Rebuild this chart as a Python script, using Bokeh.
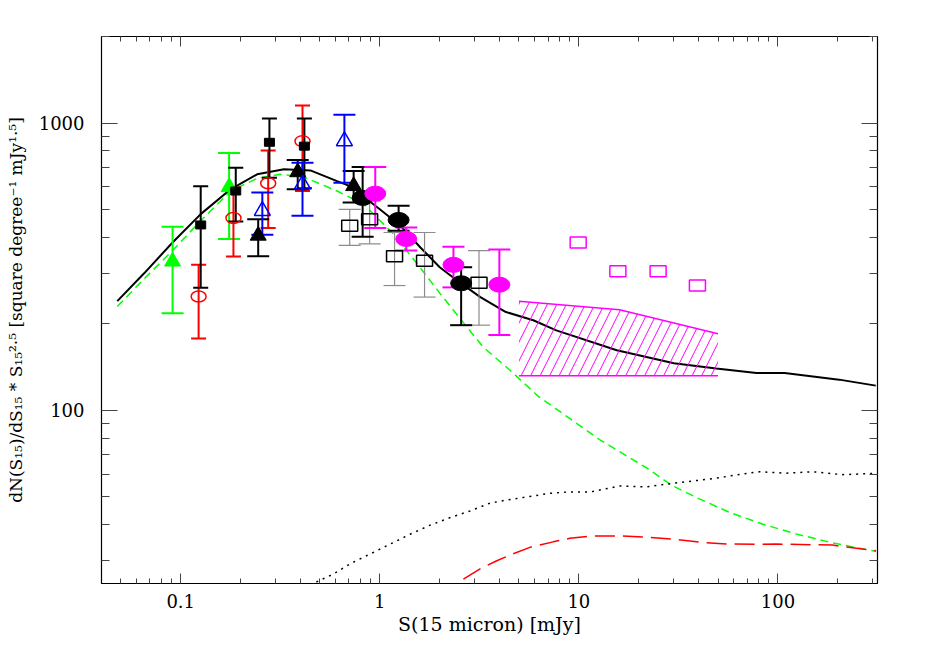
from bokeh.plotting import figure
from bokeh.models import Range1d, LogAxis, FixedTicker, CustomJSTickFormatter
from bokeh.embed import file_html
from bokeh.resources import INLINE

# ---------------- data ----------------
# total model (solid black)
model_x = [0.048, 0.0655, 0.091, 0.126, 0.178, 0.242, 0.33, 0.448, 0.61, 0.74, 0.80, 1.0, 1.27,
           1.6, 2.0, 2.5, 3.2, 4.3, 5.9, 7.7, 15.5, 30, 49, 78, 108, 203, 310]
model_y = [240, 300, 384, 482, 588, 663, 690, 684, 628, 596, 565, 501, 439,
           369, 315, 280, 248, 220, 206, 190, 162, 146, 140, 135, 135, 128, 122]

# green dashed component
green_x = [0.048, 0.0655, 0.091, 0.126, 0.178, 0.242, 0.316, 0.415, 0.61, 0.83, 1.17, 1.54, 2.01,
           2.74, 3.31, 4.51, 6.25, 12.7, 21.8, 29.7, 38.9, 57.1, 84, 123, 188, 311]
green_y = [230, 287, 360, 457, 580, 642, 663, 649, 580, 522, 411, 324, 255,
           195, 166, 138, 112, 79.2, 63.2, 54.6, 49.8, 44.2, 40.2, 37.2, 34.6, 32.3]

# dotted black component
dot_x = [0.48, 0.587, 0.711, 0.896, 1.13, 1.42, 1.79, 2.26, 2.84, 3.58, 4.34, 5.68, 7.15, 8.68,
         11.35, 16.05, 21.8, 29.7, 47.1, 64.1, 80.8, 110, 149, 211, 311]
dot_y = [25.3, 27.0, 29.3, 31.7, 34.3, 37.1, 39.9, 42.4, 44.7, 47.6, 48.8, 50.2, 51.5, 52.0,
         52.0, 54.6, 54.2, 55.8, 57.9, 59.9, 61.2, 60.5, 61.2, 59.8, 60.4]

# red long-dashed component
red_x = [2.63, 3.19, 3.87, 4.51, 5.68, 7.43, 9.01, 11.5, 16.05, 21.8, 29.7, 40.4, 55.0, 80.8,
         98, 188, 311]
red_y = [25.9, 28.1, 30.0, 31.4, 33.4, 34.9, 35.9, 36.6, 36.6, 36.2, 35.7, 34.8, 34.3, 34.2,
         34.3, 34.0, 32.5]

# green filled triangles
gt_x = [0.091, 0.175]
gt_y = [330, 599]
gt_lo = [218, 395]
gt_hi = [436, 787]

# red open circles
rc_x = [0.123, 0.184, 0.275, 0.409]
rc_y = [249, 467, 617, 865]
rc_lo = [178, 343, 431, 580]
rc_hi = [321, 596, 803, 1151]

# black filled squares
bs_x = [0.126, 0.189, 0.279, 0.418]
bs_y = [442, 580, 857, 831]
bs_lo = [267, 454, 645, 593]
bs_hi = [602, 699, 1036, 1036]

# black filled triangles
bt_x = [0.245, 0.387, 0.739]
bt_y = [406, 675, 604]
bt_lo = [344, 588, 529]
bt_hi = [463, 743, 681]

# blue open triangles
ot_x = [0.257, 0.409, 0.664]
ot_y = [495, 612, 865]
ot_lo = [409, 476, 620]
ot_hi = [573, 727, 1069]

# black open squares (grey error bars)
os_x = [0.706, 0.889, 1.186, 1.678, 3.15]
os_y = [439, 463, 344, 332, 278]
os_lo = [375, 380, 272, 248, 198]
os_hi = [501, 536, 416, 416, 360]

# big black filled circles
bc_x = [0.82, 1.243, 2.562]
bc_y = [549, 460, 277]
bc_lo = [402, 422, 198]
bc_hi = [703, 515, 315]

# magenta filled circles
mc_x = [0.949, 1.358, 2.344, 3.986]
mc_y = [568, 395, 321, 274]
mc_lo = [431, 360, 268, 183]
mc_hi = [703, 433, 371, 363]

# magenta open squares
ms_x = [9.92, 15.7, 25.0, 39.4]
ms_y = [384, 305, 305, 272]

# magenta hatched region
hz_x = [5.0, 16.0, 50.0]
hz_top = [240, 224, 185]
hz_bot = [132, 132, 132]

# tick values
x_major = [0.1, 1, 10, 100]
y_major = [100, 1000]

# ---------------- figure ----------------
FONT = "DejaVu Serif"
x_minor = [m * 10.0 ** k for k in range(-2, 3) for m in range(2, 10) if 0.04 <= m * 10.0 ** k <= 316]
y_minor = [m * 10.0 ** k for k in range(1, 4) for m in range(2, 10) if 25 <= m * 10.0 ** k <= 2000]

p = figure(width=920, height=650, x_axis_type="log", y_axis_type="log",
           x_range=Range1d(0.04, 316.23), y_range=Range1d(25, 2000),
           output_backend="svg", toolbar_location=None,
           min_border_left=101, min_border_right=43, min_border_top=36, min_border_bottom=67)
p.xgrid.visible = False
p.ygrid.visible = False
p.outline_line_color = "black"
p.background_fill_color = "white"
p.border_fill_color = "white"

fmt = CustomJSTickFormatter(code="return String(tick);")
blank = CustomJSTickFormatter(code="return '';")


def style_axis(ax, ticker, tin, min_in, formatter):
    ax.ticker = ticker
    ax.formatter = formatter
    ax.major_tick_in = tin
    ax.major_tick_out = 0
    ax.minor_tick_in = min_in
    ax.minor_tick_out = 0
    ax.axis_line_color = "black"
    ax.axis_line_width = 1.2
    ax.major_tick_line_color = "#444444"
    ax.minor_tick_line_color = "#444444"
    ax.major_label_text_font = FONT
    ax.major_label_text_font_size = "18px"
    ax.major_label_text_color = "black"
    ax.axis_label_text_font = FONT
    ax.axis_label_text_font_style = "normal"
    ax.axis_label_text_color = "black"


xt = FixedTicker(ticks=x_major, minor_ticks=x_minor)
yt = FixedTicker(ticks=y_major, minor_ticks=y_minor)

style_axis(p.xaxis[0], xt, 10, 5, fmt)
style_axis(p.yaxis[0], yt, 16, 8, fmt)
p.xaxis[0].major_label_standoff = 10
p.xaxis[0].axis_label = "S(15 micron) [mJy]"
p.xaxis[0].axis_label_text_font_size = "19px"
p.xaxis[0].axis_label_standoff = 2
p.yaxis[0].major_label_standoff = 17
p.yaxis[0].axis_label = "dN(S\u2081\u2085)/dS\u2081\u2085 * S\u2081\u2085\u00b2\u00b7\u2075 [square degree\u207b\u00b9 mJy\u00b9\u00b7\u2075]"
p.yaxis[0].axis_label_text_font_size = "17px"
p.yaxis[0].axis_label_standoff = 10

top = LogAxis()
style_axis(top, xt, 10, 5, blank)
top.major_label_standoff = 0
p.add_layout(top, "above")
right = LogAxis()
style_axis(right, yt, 16, 8, blank)
right.major_label_standoff = 0
p.add_layout(right, "right")

# ---------------- curves ----------------
p.line(model_x, model_y, line_color="black", line_width=2)
p.line(green_x, green_y, line_color="#00ff00", line_width=1.5, line_dash="8 5")
p.line(dot_x, dot_y, line_color="black", line_width=1.5, line_dash="2 5")
p.line(red_x, red_y, line_color="red", line_width=1.5, line_dash="20 8")

# hatched region
p.patch(x=hz_x + hz_x[::-1], y=hz_top + hz_bot[::-1], fill_color=None, line_color=None,
        hatch_pattern="/", hatch_color="#ff00ff", hatch_weight=1, hatch_scale=19)
p.line(hz_x, hz_top, line_color="#ff00ff", line_width=1.5)
p.line(hz_x, hz_bot, line_color="#ff00ff", line_width=1.5)


def errbars(x, lo, hi, color, cap, width=1.5):
    p.segment(x0=x, y0=lo, x1=x, y1=hi, line_color=color, line_width=width)
    p.scatter(x=x, y=lo, marker="dash", size=cap, line_color=color, line_width=width)
    p.scatter(x=x, y=hi, marker="dash", size=cap, line_color=color, line_width=width)


# error bars
errbars(os_x, os_lo, os_hi, "#8c8c8c", 22, 1.2)
errbars(gt_x, gt_lo, gt_hi, "#00ff00", 22, 2)
errbars(rc_x, rc_lo, rc_hi, "red", 15, 2)
errbars(bs_x, bs_lo, bs_hi, "black", 15, 2)
errbars(bt_x, bt_lo, bt_hi, "black", 22, 2)
errbars(ot_x, ot_lo, ot_hi, "blue", 22, 2)
errbars(bc_x, bc_lo, bc_hi, "black", 22, 2)
errbars(mc_x, mc_lo, mc_hi, "#ff00ff", 22, 2)

# markers
p.rect(os_x, os_y, width=16, height=11, width_units="screen", height_units="screen",
       fill_color=None, line_color="black", line_width=1.5)
p.scatter(gt_x, gt_y, marker="triangle", size=16, fill_color="#00ff00", line_color="#00ff00")
p.ellipse(rc_x, rc_y, width=15, height=11, width_units="screen", height_units="screen",
          fill_color=None, line_color="red", line_width=1.5)
p.rect(bs_x, bs_y, width=10, height=8, width_units="screen", height_units="screen",
       fill_color="black", line_color="black")
p.scatter(bt_x, bt_y, marker="triangle", size=16, fill_color="black", line_color="black")
p.scatter(ot_x, ot_y, marker="triangle", size=16, fill_color=None, line_color="blue", line_width=1.5)
p.ellipse(bc_x, bc_y, width=21, height=15, width_units="screen", height_units="screen",
          fill_color="black", line_color="black")
p.ellipse(mc_x, mc_y, width=21, height=15, width_units="screen", height_units="screen",
          fill_color="#ff00ff", line_color="#ff00ff")
p.rect(ms_x, ms_y, width=16, height=11, width_units="screen", height_units="screen",
       fill_color=None, line_color="#ff00ff", line_width=1.5)

open("out.html", "w").write(file_html(p, INLINE))
